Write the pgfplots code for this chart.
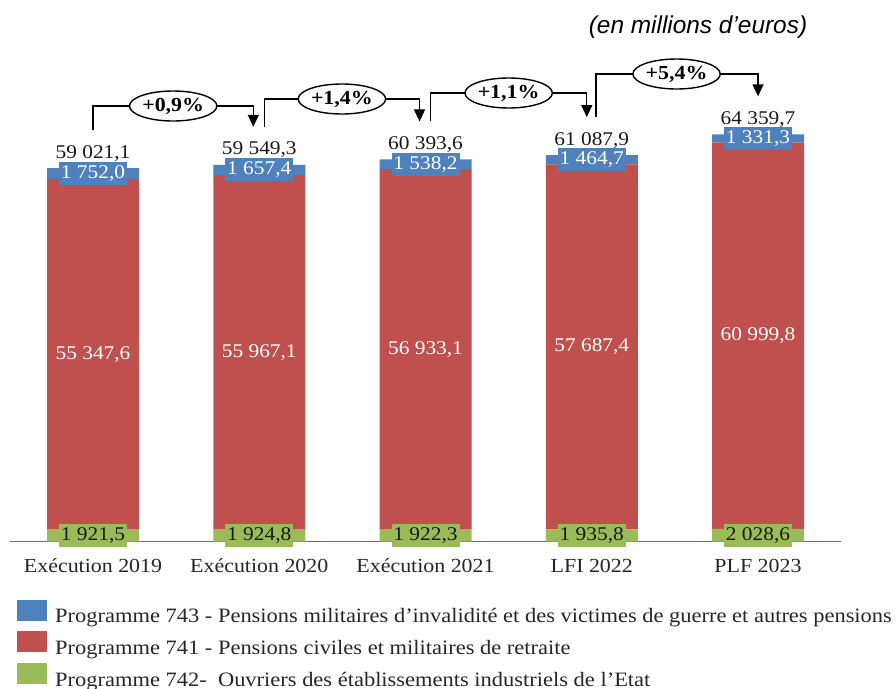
\documentclass[border=0pt]{standalone}
\usepackage{pgfplots}
\pgfplotsset{compat=1.18}
\usepackage{pgfplotstable}
\usepackage{fontspec}
\setmainfont{Liberation Serif}[FakeStretch=1.1]
\newfontfamily\arialfont{Liberation Sans}
\usetikzlibrary{arrows.meta,shapes.geometric}
\definecolor{cblue}{HTML}{4F81BD}
\definecolor{cred}{HTML}{C0504D}
\definecolor{cgreen}{HTML}{9BBB59}
\definecolor{caxis}{HTML}{6E6E6E}

\pgfplotstableread{
x g r b
0 1921.5 55347.6 1752.0
1 1924.8 55967.1 1657.4
2 1922.3 56933.1 1538.2
3 1935.8 57687.4 1464.7
4 2028.6 60999.8 1331.3
}\data

\pgfplotsset{
  base/.style={scale only axis, width=831.25bp, height=506.4bp,
    xmin=-0.5, xmax=4.5, ymin=0, ymax=80000, clip=false,
    at={(9.9bp,147.3bp)}, anchor=south west},
  numfmt/.style={/pgf/number format/.cd, use comma, 1000 sep={\ }, fixed,
    fixed zerofill, precision=1, assume math mode=true},
  lbl/.style={only marks, mark=*, mark size=0bp, mark options={draw=none, fill=none},
    nodes near coords},
  sq/.style={legend image code/.code={\fill[##1] (0bp,-4.5bp) rectangle (30bp,16.5bp);}}
}

\begin{document}
\begin{tikzpicture}
\useasboundingbox (0,0) rectangle (896bp,689bp);
\begin{axis}[base, ybar stacked, bar width=92bp,
  axis x line*=bottom, axis y line=none,
  x axis line style={draw=caxis, line width=1.2bp},
  xtick={0,1,2,3,4},
  xticklabels={Exécution 2019, Exécution 2020, Exécution 2021, LFI 2022, PLF 2023},
  major tick length=0pt,
  xticklabel style={font=\fontsize{20}{22}\selectfont, anchor=base, yshift=-31bp, text=black!85},
  reverse legend,
  legend cell align=left,
  legend style={draw=none, fill=none, at={(0.00854,-0.114)}, anchor=north west,
    inner sep=0pt, row sep=7.5bp, column sep=8bp,
    font=\fontsize{20.5}{22}\selectfont, text=black!85,
    nodes={inner sep=0pt}},
]
\addplot[fill=cgreen, draw=none, sq] table[x=x, y=g] {\data};
\addplot[fill=cred, draw=none, sq] table[x=x, y=r] {\data};
\addplot[fill=cblue, draw=none, sq] table[x=x, y=b] {\data};
\legend{Programme 742-\ \ Ouvriers des établissements industriels de l’Etat,
        Programme 741 - Pensions civiles et militaires de retraite,
        Programme 743 - Pensions militaires d’invalidité et des victimes de guerre et autres pensions}
\end{axis}

\begin{axis}[base, axis lines=none, numfmt,
  nodes near coords style={font=\fontsize{19.5}{22}\selectfont}]
% green labels
\addplot[lbl, point meta=\thisrow{g},
  nodes near coords style={anchor=center, fill=cgreen, text=black!90, inner sep=0pt,
    minimum width=68bp, minimum height=23bp}]
  table[x=x, y expr=\thisrow{g}/2] {\data};
% red labels
\addplot[lbl, point meta=\thisrow{r},
  nodes near coords style={anchor=center, text=white}]
  table[x=x, y expr=\thisrow{g}+\thisrow{r}/2] {\data};
% blue labels
\addplot[lbl, point meta=\thisrow{b},
  nodes near coords style={anchor=center, fill=cblue, text=white, inner sep=0pt,
    minimum width=68bp, minimum height=23bp}]
  table[x=x, y expr=\thisrow{g}+\thisrow{r}+\thisrow{b}/2] {\data};
% totals
\addplot[lbl, point meta=\thisrow{g}+\thisrow{r}+\thisrow{b},
  nodes near coords style={anchor=base, yshift=10bp, text=black!90}]
  table[x=x, y expr=\thisrow{g}+\thisrow{r}+\thisrow{b}] {\data};

% evolution brackets
\tikzset{br/.style={line width=1.4bp, -{Triangle[width=11bp,length=12bp]}},
  pc/.style={draw, ellipse, fill=white, line width=1.4bp, inner sep=0pt,
    minimum width=80bp, minimum height=30bp, font=\fontsize{20}{22}\selectfont\bfseries}}
\draw[br] (axis cs:0,65021) |- (axis cs:0.482,68830) -| (axis cs:0.964,65549);
\node[pc] at (axis cs:0.482,68830) {+0,9\%};
\draw[br] (axis cs:1.03,65549) |- (axis cs:1.497,69937) -| (axis cs:1.964,66394);
\node[pc] at (axis cs:1.497,69937) {+1,4\%};
\draw[br] (axis cs:2.03,66394) |- (axis cs:2.5,70885) -| (axis cs:2.97,67088);
\node[pc] at (axis cs:2.5,70885) {+1,1\%};
\draw[br] (axis cs:3.025,67088) |- (axis cs:3.51,73886) -| (axis cs:4,70360);
\node[pc] at (axis cs:3.51,73886) {+5,4\%};
\end{axis}

\node[font=\arialfont\itshape\fontsize{24.5}{26}\selectfont, text=black] at (698bp,662bp) {(en millions d’euros)};
\end{tikzpicture}
\end{document}
